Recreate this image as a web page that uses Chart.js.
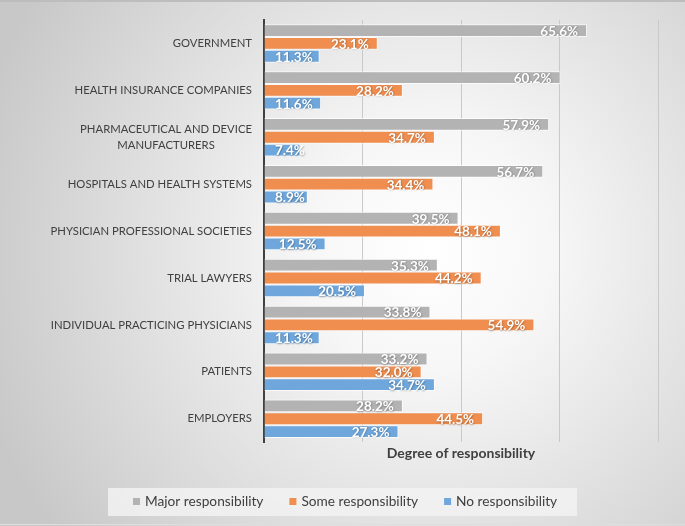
<!DOCTYPE html>
<html>
<head>
<meta charset="utf-8">
<script src="https://cdn.jsdelivr.net/npm/chart.js@4.4.1/dist/chart.umd.min.js"></script>
<style>
  html, body { margin: 0; padding: 0; background: #ccc; }
  canvas { display: block; }
</style>
</head>
<body>
<canvas id="myChart" width="685" height="526"></canvas>
<script>
// data
const categories = [
  'GOVERNMENT',
  'HEALTH INSURANCE COMPANIES',
  ['PHARMACEUTICAL AND DEVICE', 'MANUFACTURERS'],
  'HOSPITALS AND HEALTH SYSTEMS',
  'PHYSICIAN PROFESSIONAL SOCIETIES',
  'TRIAL LAWYERS',
  'INDIVIDUAL PRACTICING PHYSICIANS',
  'PATIENTS',
  'EMPLOYERS'
];
const major = [65.6, 60.2, 57.9, 56.7, 39.5, 35.3, 33.8, 33.2, 28.2];
const some = [23.1, 28.2, 34.7, 34.4, 48.1, 44.2, 54.9, 32.0, 44.5];
const none = [11.3, 11.6, 7.4, 8.9, 12.5, 20.5, 11.3, 34.7, 27.3];
const seriesNames = ['Major responsibility', 'Some responsibility', 'No responsibility'];
const axisTitle = 'Degree of responsibility';

const colors = ['#b3b3b3', '#ef8e4f', '#6fa7dc'];
const FONT = 'Lato, "Open Sans", sans-serif';
const TEXT = '#404040';

// background: grey frame with a light radial centre
const bgPlugin = {
  id: 'bgPlugin',
  beforeDraw(chart) {
    const {ctx, width, height} = chart;
    ctx.save();
    const g = ctx.createRadialGradient(430, 250, 0, 430, 250, 470);
    g.addColorStop(0, '#ffffff');
    g.addColorStop(0.25, '#f7f7f7');
    g.addColorStop(1, '#c8c8c8');
    ctx.fillStyle = g;
    ctx.fillRect(0, 0, width, height);
    ctx.fillStyle = '#bdbdbd';
    ctx.fillRect(0, 0, width, 2);
    ctx.fillStyle = '#dedede';
    ctx.fillRect(0, height - 2, width, 1);
    // legend box
    ctx.fillStyle = 'rgba(242,242,242,0.85)';
    ctx.fillRect(108, 488, 469, 28);
    ctx.restore();
  }
};

// category labels, right aligned block with centred lines
const catLabels = {
  id: 'catLabels',
  afterDraw(chart) {
    const {ctx} = chart;
    const yScale = chart.scales.y;
    ctx.save();
    ctx.font = '11.3px ' + FONT;
    ctx.fillStyle = TEXT;
    ctx.textAlign = 'center';
    ctx.textBaseline = 'middle';
    const right = chart.chartArea.left - 12;
    categories.forEach((lab, i) => {
      const lines = Array.isArray(lab) ? lab : [lab];
      const w = Math.max(...lines.map(l => ctx.measureText(l).width));
      const cy = yScale.getPixelForValue(i);
      const lh = 16;
      lines.forEach((l, j) => {
        ctx.fillText(l, right - w / 2, cy + (j - (lines.length - 1) / 2) * lh);
      });
    });
    ctx.restore();
  }
};

// value labels inside end of bars
const valueLabels = {
  id: 'valueLabels',
  afterDatasetsDraw(chart) {
    const {ctx} = chart;
    const left = chart.chartArea.left;
    ctx.save();
    ctx.font = 'bold 13.5px ' + FONT;
    ctx.fillStyle = '#ffffff';
    ctx.textAlign = 'right';
    ctx.textBaseline = 'middle';
    ctx.shadowColor = 'rgba(0,0,0,0.35)';
    ctx.shadowBlur = 2;
    ctx.shadowOffsetX = 0.5;
    ctx.shadowOffsetY = 0.5;
    chart.data.datasets.forEach((ds, di) => {
      chart.getDatasetMeta(di).data.forEach((bar, i) => {
        const txt = ds.data[i].toFixed(1) + '%';
        const w = ctx.measureText(txt).width;
        const x = Math.max(bar.x - 9, left + 11 + w);
        ctx.fillText(txt, x, bar.y + 1);
      });
    });
    ctx.restore();
  }
};

// legend
const legendPlugin = {
  id: 'legendPlugin',
  afterDraw(chart) {
    const {ctx} = chart;
    ctx.save();
    ctx.font = '13.7px ' + FONT;
    ctx.textBaseline = 'middle';
    ctx.textAlign = 'left';
    const y = 502;
    let x = 133;
    chart.data.datasets.forEach((ds) => {
      ctx.fillStyle = ds.backgroundColor;
      ctx.fillRect(x, y - 4, 7, 7);
      ctx.fillStyle = TEXT;
      ctx.fillText(ds.label, x + 12, y);
      x += 12 + ctx.measureText(ds.label).width + 26;
    });
    ctx.restore();
  }
};

const data = {
  labels: categories,
  datasets: [major, some, none].map((vals, k) => ({
    label: seriesNames[k],
    data: vals,
    backgroundColor: colors[k],
    borderColor: 'rgba(255,255,255,0.75)',
    borderWidth: 1,
    categoryPercentage: 0.82,
    barPercentage: 1.0
  }))
};

const config = {
  type: 'bar',
  data,
  options: {
    indexAxis: 'y',
    responsive: false,
    animation: false,
    layout: {padding: {left: 264, right: 27, top: 20, bottom: 64}},
    scales: {
      x: {
        min: 0,
        max: 80,
        ticks: {display: false, stepSize: 20},
        grid: {color: '#c9c9c9', lineWidth: 1, drawTicks: false},
        border: {display: false},
        title: {
          display: true,
          text: axisTitle,
          color: TEXT,
          font: {family: FONT, size: 14, weight: 'bold'},
          padding: {top: 3, bottom: 0}
        }
      },
      y: {
        ticks: {display: false},
        grid: {display: false},
        border: {display: true, color: '#404040', width: 2},
        afterFit(s) { s.width = 0; }
      }
    },
    plugins: {
      legend: {display: false},
      tooltip: {enabled: false}
    }
  },
  plugins: [bgPlugin, catLabels, valueLabels, legendPlugin]
};

const myChart = new Chart(document.getElementById('myChart'), config);
</script>
</body>
</html>
